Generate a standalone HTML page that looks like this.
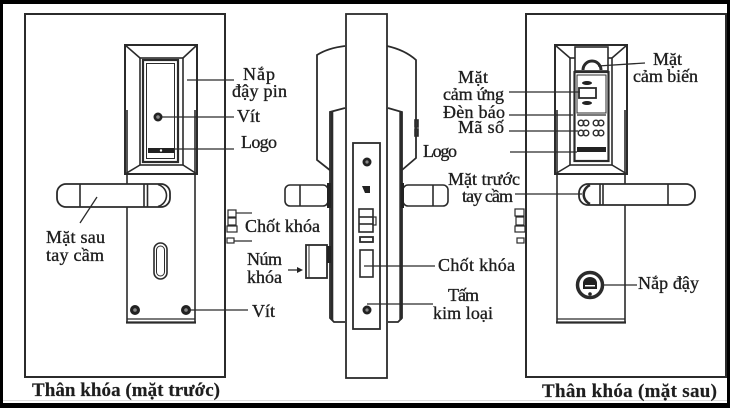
<!DOCTYPE html>
<html><head><meta charset="utf-8"><style>
html,body{margin:0;padding:0;background:#fff;}
svg{display:block}
text{font-family:"Liberation Serif",serif;font-size:18px;fill:#1e1e1e;stroke:#1e1e1e;stroke-width:0.35px;}
.b{font-weight:bold;font-size:19px;stroke-width:0.2px}
</style></head><body>
<svg width="730" height="408" viewBox="0 0 730 408" xmlns="http://www.w3.org/2000/svg">
<rect x="0" y="0" width="730" height="408" fill="#000"/>
<rect x="3" y="4" width="724" height="399" fill="#fff"/>
<line x1="3" y1="400.5" x2="727" y2="400.5" stroke="#ddd"/>

<g fill="none" stroke="#2b2b2b" stroke-width="1.6">
 <!-- ============ LEFT PANEL ============ -->
 <rect x="25" y="14" width="200" height="363" stroke-width="2"/>
 <rect x="125" y="45" width="72" height="129" fill="#fff" stroke-width="2"/>
 <rect x="140" y="58" width="43" height="107"/>
 <line x1="125" y1="45" x2="140" y2="58"/>
 <line x1="197" y1="45" x2="183" y2="58"/>
 <line x1="125" y1="174" x2="140" y2="165"/>
 <line x1="197" y1="174" x2="183" y2="165"/>
 <rect x="143" y="60" width="35" height="102" stroke-width="2.2"/>
 <rect x="146.5" y="63.5" width="28" height="95" stroke-width="1"/>
 <path d="M127,110 V322 M195,110 V322"/>
 <line x1="127" y1="319" x2="195" y2="319" stroke-width="1.2"/>
 <line x1="126" y1="322.5" x2="196" y2="322.5" stroke-width="2.2"/>
 <rect x="154" y="243" width="13" height="36" rx="6.5"/>
 <rect x="156.5" y="246" width="8" height="30" rx="4" stroke-width="1"/>
 <rect x="57" y="184" width="113" height="23" rx="9" fill="#fff" stroke-width="1.8"/>
 <path d="M80,184 V207 M144,184 V207 M147.5,184 V207"/>
 <path d="M158,184.5 A12,11.5 0 0 1 158,206.5" stroke-width="1.6"/>
 <g stroke-width="1.3">
 <line x1="187" y1="80" x2="234" y2="80"/>
 <line x1="160" y1="117" x2="234" y2="117"/>
 <line x1="173" y1="149" x2="234" y2="149"/>
 <line x1="80" y1="223" x2="97" y2="197"/>
 <line x1="190" y1="310" x2="248" y2="310"/>
 </g>
 <rect x="228" y="210" width="8" height="7" stroke-width="1.2"/>
 <rect x="228" y="218" width="8" height="7" stroke-width="1.2"/>
 <rect x="227" y="226" width="10" height="6" stroke-width="1.2"/>
 <rect x="227" y="238" width="7" height="5" stroke-width="1.2"/>
 <line x1="236" y1="213" x2="252" y2="213" stroke-width="1.2"/>
 <line x1="234" y1="241" x2="252" y2="241" stroke-width="1.2"/>

 <!-- ============ MIDDLE ============ -->
 <path d="M345,46 Q328,48 317,55 L317,160 L331,171" stroke-width="1.8"/>
 <path d="M387,46 Q405,50 416,60 L416,158 L402,170" stroke-width="1.8"/>
 <rect x="346" y="14" width="41" height="364" stroke-width="1.8"/>
 <path d="M345,108 L330,112 L330,318 L334,322 L345,322" fill="#fff" stroke-width="1.8"/>
 <line x1="332" y1="112" x2="332" y2="320" stroke-width="2.6"/>
 <path d="M388,108 L402,112 L402,318 L398,322 L388,322" fill="#fff" stroke-width="1.8"/>
 <line x1="400.5" y1="112" x2="400.5" y2="320" stroke-width="2.4"/>
 <rect x="415" y="120" width="3" height="7" fill="#333"/>
 <rect x="415" y="129" width="3" height="7" fill="#333"/>
 <rect x="353" y="143" width="27" height="186" fill="#fff" stroke-width="1.8"/>
 <rect x="359" y="209" width="14" height="23"/>
 <line x1="359" y1="217" x2="373" y2="217"/>
 <line x1="359" y1="224" x2="373" y2="224"/>
 <rect x="373" y="217" width="3" height="8" stroke-width="1.2"/>
 <rect x="360" y="237" width="13" height="5" stroke-width="1.8"/>
 <rect x="360" y="250" width="13" height="27"/>
 <rect x="285" y="185" width="43" height="21" rx="5" fill="#fff"/>
 <line x1="300" y1="185" x2="300" y2="206"/>
 <rect x="403" y="185" width="45" height="21" rx="5" fill="#fff"/>
 <line x1="433" y1="185" x2="433" y2="206"/>
 <rect x="306" y="245" width="21" height="33" fill="#fff" stroke-width="1.8"/>
 <line x1="309" y1="245" x2="309" y2="278" stroke-width="1"/>
 <g stroke-width="1.3">
 <line x1="364" y1="266" x2="435" y2="266"/>
 <line x1="367" y1="304" x2="433" y2="304"/>
 <line x1="288" y1="270" x2="299" y2="270"/>
 </g>

 <!-- ============ RIGHT PANEL ============ -->
 <rect x="526" y="14" width="200" height="363" stroke-width="2"/>
 <rect x="555" y="45" width="72" height="129" fill="#fff" stroke-width="2"/>
 <rect x="570" y="58" width="42" height="107"/>
 <line x1="555" y1="45" x2="570" y2="58"/>
 <line x1="627" y1="45" x2="612" y2="58"/>
 <line x1="555" y1="174" x2="570" y2="165"/>
 <line x1="627" y1="174" x2="612" y2="165"/>
 <rect x="575" y="47" width="33" height="24" fill="#fff"/>
 <path d="M583,70 A9,9 0 0 1 601,70" stroke-width="3"/>
 <rect x="574.5" y="72" width="34" height="89" stroke-width="2.2"/>
 <rect x="577" y="75" width="29" height="38" stroke-width="1"/>
 <rect x="579" y="88" width="17" height="10" stroke-width="1.8"/>
 <line x1="577" y1="115" x2="606" y2="115" stroke-width="1.2"/>
 <g stroke-width="1.4">
 <circle cx="581" cy="123" r="2.8"/><circle cx="586" cy="123" r="2.8"/>
 <circle cx="596" cy="123" r="2.8"/><circle cx="601" cy="123" r="2.8"/>
 <circle cx="581" cy="133" r="2.8"/><circle cx="586" cy="133" r="2.8"/>
 <circle cx="596" cy="133" r="2.8"/><circle cx="601" cy="133" r="2.8"/>
 </g>
 <path d="M557,110 V322 M625,110 V322"/>
 <line x1="557" y1="319" x2="625" y2="319" stroke-width="1.2"/>
 <line x1="556" y1="322.5" x2="626" y2="322.5" stroke-width="2.2"/>
 <rect x="579" y="184" width="116" height="21" rx="9" fill="#fff" stroke-width="1.8"/>
 <path d="M600,184 V205 M603,184 V205 M668,184 V205"/>
 <path d="M590,185 A11,10.5 0 0 0 590,204" stroke-width="2.5"/>
 <circle cx="590" cy="285" r="12.5" stroke-width="3.5" fill="#fff"/>
 <rect x="515" y="209" width="9" height="7" stroke-width="1.2"/>
 <rect x="516" y="217" width="8" height="8" stroke-width="1.2"/>
 <rect x="515" y="226" width="10" height="6" stroke-width="1.2"/>
 <rect x="517" y="238" width="7" height="5" stroke-width="1.2"/>
 <g stroke-width="1.3">
 <line x1="598" y1="66" x2="645" y2="63"/>
 <line x1="509" y1="92" x2="580" y2="92"/>
 <line x1="509" y1="115" x2="573" y2="115"/>
 <line x1="509" y1="131" x2="578" y2="131"/>
 <line x1="510" y1="152" x2="577" y2="152"/>
 <line x1="515" y1="194" x2="582" y2="194"/>
 <line x1="603" y1="285" x2="637" y2="285"/>
 </g>
</g>

<g fill="#222">
 <circle cx="158" cy="117" r="4.5"/>
 <rect x="148" y="148" width="26" height="5"/>
 <circle cx="135" cy="310" r="5"/>
 <circle cx="186" cy="310" r="5"/>
 <circle cx="367" cy="162" r="4.5"/>
 <circle cx="367" cy="310" r="4.5"/>
 <polygon points="362,186 370,186 370,193 365,193"/>
 <rect x="327" y="183" width="4" height="25"/>
 <rect x="401" y="183" width="3" height="25"/>
 <rect x="327" y="246" width="4" height="17"/>
 <ellipse cx="587" cy="83" rx="5" ry="2"/>
 <ellipse cx="587" cy="103" rx="5" ry="2"/>
 <rect x="577" y="147" width="29" height="5"/>
 <path d="M583,289 V283 A7,6 0 0 1 597,283 V289 Z"/>
 <circle cx="590" cy="294" r="1.8"/>
 <polygon points="303,270 297,267 297,273"/>
</g>
<g fill="#888">
 <circle cx="158" cy="117" r="1.8"/>
 <circle cx="135" cy="310" r="1.8"/>
 <circle cx="186" cy="310" r="1.8"/>
 <circle cx="367" cy="162" r="1.6"/>
 <circle cx="367" cy="310" r="1.6"/>
</g>
<circle cx="161" cy="150.5" r="1.2" fill="#fff"/>
<rect x="585" y="285" width="10" height="1.5" fill="#fff"/>

<text x="243" y="80" textLength="32">Nắp</text>
<text x="232" y="97" textLength="55">đậy pin</text>
<text x="237" y="122" textLength="23">Vít</text>
<text x="241" y="148" textLength="36">Logo</text>
<text x="46" y="243" textLength="59">Mặt sau</text>
<text x="46" y="261" textLength="58">tay cầm</text>
<text class="b" x="32" y="396" textLength="188">Thân khóa (mặt trước)</text>
<text x="245" y="232" textLength="75">Chốt khóa</text>
<text x="247" y="265" textLength="35">Núm</text>
<text x="247" y="283" textLength="35">khóa</text>
<text x="252" y="317" textLength="23">Vít</text>
<text x="438" y="271" textLength="77">Chốt khóa</text>
<text x="448" y="301" textLength="31">Tấm</text>
<text x="433" y="319" textLength="60">kim loại</text>
<text x="653" y="65" textLength="29">Mặt</text>
<text x="633" y="82" textLength="65">cảm biến</text>
<text x="458" y="83" textLength="30">Mặt</text>
<text x="443" y="100" textLength="61">cảm ứng</text>
<text x="443" y="118" textLength="62">Đèn báo</text>
<text x="458" y="133" textLength="46">Mã số</text>
<text x="423" y="157" textLength="34">Logo</text>
<text x="448" y="185" textLength="72">Mặt trước</text>
<text x="462" y="202" textLength="51">tay cầm</text>
<text x="638" y="289" textLength="61">Nắp đậy</text>
<text class="b" x="542" y="397" textLength="175">Thân khóa (mặt sau)</text>
</svg>
</body></html>
